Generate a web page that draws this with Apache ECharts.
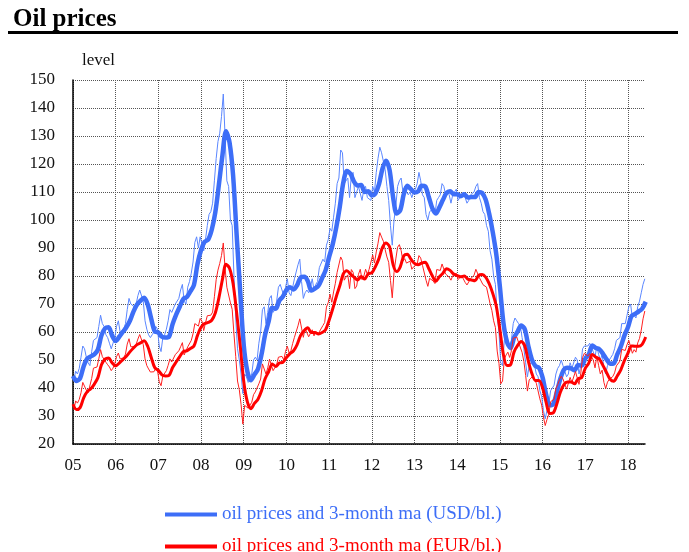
<!DOCTYPE html>
<html>
<head>
<meta charset="utf-8">
<title>Oil prices</title>
<script src="https://cdn.jsdelivr.net/npm/echarts@6/dist/echarts.min.js"></script>
<style>
  html, body { margin: 0; padding: 0; background: #fff; }
  #chart { width: 689px; height: 552px; }
</style>
</head>
<body>
<div id="chart"></div>
<script>
// oil prices, half-monthly readings from Jan 2005 to May 2018
const startYear = 2005
const usdSpot = [
  43,46, 45,47, 51,55, 54,51, 49,48, 53,57, 57,58, 62,66, 63,62, 59,58, 56,54, 56,58,
  62,64, 60,60, 61,63, 68,72, 70,70, 69,70, 73,75, 75,71, 64,61, 59,58, 59,60, 62,61,
  55,53, 58,59, 61,64, 68,67, 67,70, 70,72, 75,77, 71,70, 76,78, 81,85, 92,94, 90,94,
  94,89, 93,98, 102,103, 106,114, 122,128, 131,137, 145,130, 114,112, 100,98, 80,65, 54,50, 45,38,
  45,44, 42,43, 45,50, 51,50, 56,60, 68,69, 63,67, 72,73, 67,68, 71,76, 77,77, 73,76,
  79,74, 73,76, 79,79, 84,86, 78,72, 74,75, 74,76, 79,75, 77,78, 83,83, 86,85, 91,93,
  97,96, 101,106, 113,115, 125,124, 113,113, 115,108, 116,117, 108,110, 112,112, 107,111, 112,108, 108,107,
  112,110, 117,122, 126,124, 121,118, 112,107, 98,91, 100,105, 112,114, 115,110, 112,110, 109,110, 108,110,
  111,113, 117,114, 109,108, 102,100, 103,103, 104,102, 107,108, 109,113, 112,109, 110,109, 106,109, 110,111,
  107,108, 109,110, 108,106, 107,109, 109,110, 112,113, 108,106, 103,102, 98,96, 89,86, 80,77, 66,60,
  49,48, 57,59, 57,55, 57,63, 65,64, 63,62, 58,54, 49,44, 48,48, 50,48, 45,44, 39,37,
  32,29, 32,34, 39,40, 41,45, 47,48, 50,48, 46,44, 45,49, 47,47, 51,50, 45,48, 54,55,
  55,55, 56,56, 53,51, 55,52, 50,52, 47,45, 48,50, 51,52, 54,57, 57,58, 63,63, 63,66,
  69,70, 65,66, 65,69, 71,74, 77,79
]
const eurSpot = [
  32.3,35.4, 34.6,35.9, 38.3,42.0, 41.9,39.2, 38.3,38.4, 43.4,47.1, 47.5,47.5, 50.4,53.7, 51.2,51.2, 49.2,48.3, 47.5,46.2, 47.1,48.7,
  51.2,52.5, 50.4,50.4, 50.8,52.1, 55.7,57.6, 54.7,54.7, 54.8,55.6, 57.5,59.1, 58.6,55.5, 50.4,48.0, 46.8,45.7, 46.1,45.8, 47.0,46.2,
  42.3,40.8, 44.3,45.0, 46.2,48.1, 50.4,49.3, 49.6,51.9, 52.2,53.3, 54.7,56.2, 51.8,51.5, 54.7,55.3, 57.0,59.4, 63.0,63.5, 62.1,64.8,
  63.9,60.5, 63.3,65.8, 65.8,66.0, 67.1,72.6, 78.7,82.1, 84.5,87.3, 91.8,82.8, 76.0,76.2, 70.4,68.1, 59.3,51.2, 42.5,39.4, 34.1,27.1,
  33.8,33.8, 32.8,33.9, 34.9,37.6, 38.6,38.2, 41.5,43.2, 48.6,49.3, 45.0,47.2, 50.3,51.0, 46.2,46.3, 48.3,51.0, 51.7,51.3, 50.0,53.1,
  54.9,52.5, 53.3,55.9, 58.1,58.5, 62.2,64.7, 61.4,58.1, 61.2,61.0, 58.3,58.9, 60.8,58.6, 60.2,59.1, 60.1,59.7, 62.3,63.4, 68.9,70.5,
  73.5,70.6, 74.3,77.4, 81.3,81.6, 86.8,85.5, 78.5,79.6, 80.4,75.5, 82.3,81.3, 75.5,76.4, 80.6,82.4, 78.7,79.9, 82.4,80.6, 82.4,82.3,
  87.5,84.6, 88.6,91.7, 95.5,93.9, 92.4,89.4, 86.8,84.9, 78.4,72.2, 81.3,86.1, 90.3,91.2, 89.1,85.3, 86.2,84.6, 85.2,85.3, 82.4,83.3,
  83.5,84.3, 87.3,86.4, 83.8,83.7, 78.5,76.3, 79.2,79.2, 78.2,77.3, 82.3,81.8, 82.0,84.3, 84.2,80.7, 80.9,79.6, 78.5,80.1, 80.3,81.0,
  78.7,79.4, 80.1,80.3, 77.7,76.8, 77.5,79.0, 78.4,80.3, 82.4,83.1, 79.4,79.1, 76.9,76.7, 76.0,75.6, 70.1,67.7, 64.0,61.6, 53.2,48.8,
  41.5,42.5, 50.4,51.8, 52.8,50.9, 53.3,57.8, 58.0,58.2, 56.3,55.9, 52.7,49.5, 44.5,38.9, 42.9,42.5, 44.2,43.2, 41.7,41.5, 36.1,33.9,
  29.6,26.6, 28.8,30.6, 35.1,35.7, 36.0,39.8, 41.2,42.9, 44.2,43.2, 41.4,39.6, 40.2,43.8, 42.0,42.0, 45.9,45.9, 41.3,45.3, 50.9,52.4,
  51.9,51.4, 52.3,52.8, 50.0,47.2, 51.4,48.1, 45.0,46.4, 42.0,39.8, 42.1,43.1, 43.2,44.1, 45.4,47.9, 48.3,49.6, 53.8,53.4, 53.4,55.5,
  57.0,56.9, 52.4,53.7, 52.8,56.1, 57.7,60.7, 64.7,67.5
]
// 3-month moving averages, month ends from Dec 2004 to May 2018
const usdMa = [
  44.3,
  42.5,43.5,47.8,50.5,51.3,52,53.7,58.8,61.3,61.7,58.7,56.8,
  58.3,60,61.7,64,67.3,69.8,71.2,72.2,69.8,64.7,60.2,59.8,
  58.3,58,58.3,62.8,66.2,69,71.8,72.5,74.5,76.8,84.3,89.3,
  92.2,93,96.5,102.7,112.5,123,131.7,127.7,116,94.8,74.5,55.3,
  46,42.8,44.8,46.8,52,59,63.8,68.7,68.3,71.2,72.7,75,
  76,75.2,76.7,79.5,79.7,78.2,74.8,75.5,76.5,79.2,82,86.8,
  91.3,97.3,104.7,113.5,117.5,116.5,113.7,112.3,112.5,110,110.3,108.8,
  109.5,112.7,118.3,121.2,117.8,108,102.3,103.5,109.3,112.2,111,109.8,
  110.2,112.2,112,108.3,104.2,102.3,104.5,107.2,109.7,110.3,109.2,109.2,
  108.5,109.2,108,108.2,108.2,110,109.7,107.3,102.2,95.7,87.7,76.3,
  63.3,56.5,54.2,58,60.2,62.3,61,55,50.2,47.8,47.2,43.8,
  37.7,33.8,34.3,38.5,43.3,46.5,47.2,47,46.3,48.2,48,50.5,
  52,55.2,54.3,53.8,52.2,50.2,48.7,48.8,52,54.8,58.7,61.7,
  65.7,66.5,67.3,68.3,70.8
]
const eurMa = [
  34.2,
  32.3,33,36.5,38.7,39.7,41.4,43.7,48.3,50.3,50.7,49,47.9,
  48.9,50.1,51.3,52.9,54.3,55.5,56.1,56.9,54.9,50.9,47.2,46.3,
  44.7,44.3,44.5,47.3,49.3,51.2,53,53.3,54.1,55,58.8,61.7,
  63,63.4,64.2,66.8,72.1,78.7,84.2,82.8,77.3,66.9,55.2,42.3,
  35.1,32.6,34.5,36,39,43.3,45.8,48.6,47.7,48.9,49.2,50.9,
  52.3,53.3,55.5,58.8,60.5,61.5,59.8,59.8,59.3,59.8,60.8,64.2,
  68.2,72.6,76.5,80.8,81.9,80.7,79.6,78.6,79.8,78.9,80.8,81.1,
  83.3,86.2,90.2,91.8,90.4,84,81.6,83.3,87.2,87.8,86,84.5,
  84,84.6,84.9,82.7,80.1,78.1,79.7,81,82.6,82,80.7,80.1,
  79.7,80,78.9,78.6,78.3,80.2,80.5,79.6,77.3,73.8,69.2,60.9,
  51.9,48,48.3,52.9,55.2,56.6,55.1,49.6,45.2,42.7,42.7,40.1,
  34.9,30.9,31.1,34.3,38.5,41.2,42.1,42.1,41.5,43.3,43.7,47,
  48.9,52,51,50.3,48,45.5,43.1,42.4,44.3,46.5,49.8,52.4,
  55,54.9,54.9,55.6,58.2
]
const usdLabel = 'oil prices and 3-month ma (USD/bl.)'
const eurLabel = 'oil prices and 3-month ma (EUR/bl.)'

const BLUE = '#3d6ef7'
const RED = '#ff0000'
const FONT = '"Liberation Serif", "DejaVu Serif", serif'

// half-month points sit in the middle of each half, MA points at month ends
const halfMonth = (arr) => arr.map((v, i) => [startYear + (i + 0.5) / 24, v])
const monthEnd = (arr) => arr.map((v, i) => [startYear + i / 12, v])

const myChart = echarts.init(document.getElementById('chart'))
const option = {
    animation: false,
    title: {
        text: 'Oil prices',
        left: 8,
        top: 2,
        textStyle: { fontFamily: FONT, fontWeight: 'bold', fontSize: 25, color: '#000' }
    },
    graphic: [
        { type: 'rect', shape: { x: 8, y: 31, width: 670, height: 3 }, style: { fill: '#000' } }
    ],
    grid: { left: 73, right: 44, top: 80, bottom: 108 },
    legend: {
        orient: 'vertical',
        left: 165,
        top: 505,
        height: 80,
        padding: 0,
        itemWidth: 52,
        itemHeight: 4,
        itemGap: 13,
        icon: 'rect',
        textStyle: { fontFamily: FONT, fontSize: 19 },
        data: [
            { name: usdLabel, textStyle: { color: BLUE } },
            { name: eurLabel, textStyle: { color: RED } }
        ]
    },
    xAxis: {
        type: 'value',
        min: 2005,
        max: 2018.4,
        interval: 1,
        axisLine: { lineStyle: { color: '#000', width: 1.5 } },
        axisTick: { show: false },
        axisLabel: {
            margin: 13,
            fontFamily: FONT,
            fontSize: 17,
            color: '#111',
            showMaxLabel: false,
            formatter: (v) => (Number.isInteger(v) ? String(v).slice(2) : '')
        },
        splitLine: { show: true, showMaxLine: false, lineStyle: { type: 'dotted', color: '#555' } }
    },
    yAxis: {
        type: 'value',
        min: 20,
        max: 150,
        interval: 10,
        name: 'level',
        nameGap: 11,
        nameTextStyle: { fontFamily: FONT, fontSize: 17, color: '#111', align: 'left', padding: [0, 0, 0, 9] },
        axisLine: { show: true, lineStyle: { color: '#000', width: 1.5 } },
        axisTick: { show: false },
        axisLabel: { margin: 18, fontFamily: FONT, fontSize: 17, color: '#111' },
        splitLine: { show: true, lineStyle: { type: 'dotted', color: '#555' } }
    },
    series: [
        {
            name: 'usd spot', type: 'line', data: halfMonth(usdSpot),
            showSymbol: false, silent: true,
            lineStyle: { width: 1, color: '#5a86ff' }
        },
        {
            name: usdLabel, type: 'line', data: monthEnd(usdMa),
            showSymbol: false, smooth: 0.3, silent: true, itemStyle: { color: BLUE },
            lineStyle: { width: 4.5, color: BLUE }
        },
        {
            name: 'eur spot', type: 'line', data: halfMonth(eurSpot),
            showSymbol: false, silent: true,
            lineStyle: { width: 1, color: '#ff2020' }
        },
        {
            name: eurLabel, type: 'line', data: monthEnd(eurMa),
            showSymbol: false, smooth: 0.3, silent: true, itemStyle: { color: RED },
            lineStyle: { width: 3, color: RED }
        }
    ]
}
myChart.setOption(option)
</script>
</body>
</html>
